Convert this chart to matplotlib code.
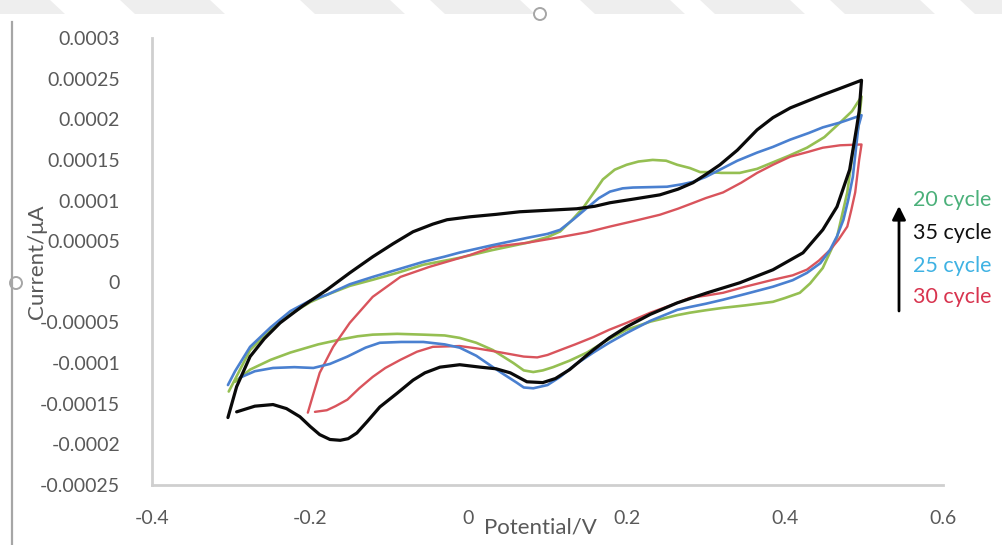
import matplotlib
matplotlib.use("Agg")
from matplotlib import pyplot as plt
from matplotlib.patches import Polygon, Circle
from matplotlib.lines import Line2D

plt.rcParams['font.family'] = ['Lato', 'DejaVu Sans']

# potential (V) and current (x1e-5), forward then reverse sweep
v20_fwd = [-0.303, -0.295, -0.276, -0.25, -0.225, -0.2, -0.179, -0.15, -0.121, -0.09, -0.057, -0.03, -0.011, 0.03,
           0.074, 0.10, 0.116, 0.130, 0.145, 0.158, 0.170, 0.185, 0.200, 0.215, 0.233, 0.25, 0.264, 0.28, 0.293,
           0.305, 0.32, 0.343, 0.365, 0.385, 0.405, 0.428, 0.45, 0.470, 0.485, 0.497]
i20_fwd = [-13.5, -12.0, -8.4, -5.9, -4.0, -2.5, -1.6, -0.5, 0.25, 1.1, 2.1, 2.6, 2.96, 3.9, 4.8, 5.5, 6.2, 7.5, 9.1,
           10.9, 12.6, 13.8, 14.4, 14.8, 15.0, 14.9, 14.4, 14.0, 13.5, 13.5, 13.4, 13.4, 13.9, 14.7, 15.5, 16.5,
           17.8, 19.6, 21.0, 22.8]
v20_rev = [0.493, 0.486, 0.479, 0.466, 0.448, 0.432, 0.419, 0.40, 0.385, 0.35, 0.322, 0.30, 0.280, 0.264, 0.23,
           0.200, 0.175, 0.150, 0.128, 0.107, 0.094, 0.082, 0.070, 0.057, 0.044, 0.031, 0.01, -0.011, -0.03, -0.057,
           -0.09, -0.121, -0.14, -0.162, -0.19, -0.225, -0.25, -0.276, -0.295]
i20_rev = [19.0, 16.0, 11.0, 5.5, 1.7, -0.2, -1.35, -2.0, -2.46, -2.9, -3.2, -3.5, -3.8, -4.1, -4.9, -5.9, -7.2,
           -8.7, -9.7, -10.5, -10.9, -11.1, -10.9, -10.0, -9.2, -8.4, -7.5, -6.9, -6.6, -6.5, -6.4, -6.5, -6.7,
           -7.1, -7.7, -8.7, -9.6, -10.8, -12.3]

v25_fwd = [-0.304, -0.295, -0.276, -0.25, -0.225, -0.2, -0.179, -0.15, -0.121, -0.09, -0.057, -0.03, -0.011, 0.03,
           0.074, 0.10, 0.116, 0.133, 0.150, 0.165, 0.179, 0.195, 0.208, 0.23, 0.251, 0.27, 0.284, 0.30, 0.318,
           0.34, 0.365, 0.385, 0.407, 0.43, 0.448, 0.47, 0.497]
i25_fwd = [-12.7, -11.0, -8.0, -5.6, -3.6, -2.3, -1.6, -0.3, 0.6, 1.5, 2.46, 3.1, 3.6, 4.5, 5.4, 5.9, 6.4, 7.7, 9.1,
           10.3, 11.1, 11.5, 11.6, 11.65, 11.7, 12.0, 12.3, 12.9, 13.8, 14.9, 15.9, 16.6, 17.5, 18.3, 19.0, 19.6,
           20.5]
v25_rev = [0.493, 0.486, 0.480, 0.474, 0.466, 0.457, 0.445, 0.428, 0.41, 0.385, 0.35, 0.322, 0.300, 0.280, 0.264,
           0.23, 0.200, 0.178, 0.158, 0.135, 0.116, 0.100, 0.082, 0.070, 0.061, 0.045, 0.031, 0.01, -0.011, -0.03,
           -0.057, -0.085, -0.112, -0.13, -0.153, -0.175, -0.196, -0.22, -0.247, -0.27, -0.289]
i25_rev = [19.1, 12.9, 10.0, 7.6, 5.6, 3.9, 2.3, 1.1, 0.2, -0.6, -1.5, -2.2, -2.7, -3.1, -3.45, -4.8, -6.3, -7.5,
           -8.7, -10.2, -11.7, -12.7, -13.1, -13.0, -12.4, -11.4, -10.5, -9.1, -8.1, -7.7, -7.4, -7.4, -7.5, -8.1,
           -9.2, -10.1, -10.6, -10.5, -10.6, -11.0, -11.8]

v30_fwd = [-0.203, -0.196, -0.188, -0.171, -0.150, -0.121, -0.086, -0.049, 0.002, 0.031, 0.074, 0.116, 0.150,
           0.179, 0.21, 0.242, 0.265, 0.284, 0.300, 0.322, 0.345, 0.365, 0.385, 0.407, 0.43, 0.448, 0.47, 0.497]
i30_fwd = [-16.1, -13.8, -11.2, -8.0, -5.05, -1.85, 0.6, 1.85, 3.3, 4.3, 4.8, 5.5, 6.1, 6.8, 7.5, 8.25, 9.0, 9.7,
           10.3, 11.0, 12.2, 13.4, 14.4, 15.4, 16.0, 16.5, 16.8, 16.9]
v30_rev = [0.494, 0.489, 0.484, 0.479, 0.468, 0.457, 0.443, 0.428, 0.41, 0.385, 0.35, 0.322, 0.300, 0.280, 0.264,
           0.23, 0.200, 0.178, 0.158, 0.135, 0.116, 0.100, 0.087, 0.070, 0.053, 0.030, 0.011, -0.011, -0.045,
           -0.065, -0.086, -0.105, -0.121, -0.138, -0.153, -0.168, -0.179, -0.194]
i30_rev = [15.0, 11.0, 8.8, 6.8, 5.2, 3.9, 2.6, 1.5, 0.8, 0.25, -0.6, -1.35, -1.7, -1.97, -2.6, -3.8, -5.05, -5.9,
           -6.8, -7.7, -8.4, -9.0, -9.3, -9.2, -8.9, -8.5, -8.2, -7.9, -8.0, -8.6, -9.6, -10.6, -11.7, -13.1,
           -14.5, -15.3, -15.8, -16.0]

v35_fwd = [-0.304, -0.293, -0.276, -0.258, -0.238, -0.21, -0.179, -0.15, -0.121, -0.095, -0.070, -0.045, -0.027,
           0.002, 0.035, 0.065, 0.10, 0.137, 0.160, 0.179, 0.21, 0.242, 0.265, 0.284, 0.300, 0.318, 0.34, 0.365,
           0.385, 0.407, 0.43, 0.448, 0.47, 0.497]
i35_fwd = [-16.7, -12.9, -9.2, -7.0, -5.05, -3.0, -0.99, 1.1, 3.08, 4.7, 6.16, 7.1, 7.64, 8.0, 8.3, 8.62, 8.8,
           8.99, 9.3, 9.73, 10.2, 10.7, 11.4, 12.2, 13.2, 14.4, 16.2, 18.7, 20.2, 21.4, 22.3, 23.0, 23.8, 24.8]
v35_rev = [0.494, 0.491, 0.482, 0.466, 0.448, 0.423, 0.385, 0.343, 0.302, 0.264, 0.23, 0.200, 0.178, 0.158, 0.128,
           0.110, 0.094, 0.074, 0.053, 0.035, 0.015, -0.011, -0.036, -0.055, -0.070, -0.09, -0.112, -0.128,
           -0.141, -0.152, -0.162, -0.175, -0.188, -0.2, -0.213, -0.23, -0.247, -0.27, -0.293]
i35_rev = [21.0, 19.1, 13.8, 9.24, 6.4, 3.57, 1.48, -0.12, -1.35, -2.59, -4.0, -5.54, -6.9, -8.37, -10.8, -11.9,
           -12.4, -12.3, -11.2, -10.7, -10.5, -10.2, -10.5, -11.2, -12.1, -13.7, -15.4, -17.2, -18.6, -19.3,
           -19.5, -19.4, -18.8, -17.8, -16.6, -15.6, -15.1, -15.3, -16.0]

y_ticks = [0.0003, 0.00025, 0.0002, 0.00015, 0.0001, 0.00005, 0, -0.00005, -0.0001, -0.00015, -0.0002, -0.00025]
y_ticklabels = ['0.0003', '0.00025', '0.0002', '0.00015', '0.0001', '0.00005', '0', '-0.00005', '-0.0001',
                '-0.00015', '-0.0002', '-0.00025']
x_ticks = [-0.4, -0.2, 0, 0.2, 0.4, 0.6]
x_ticklabels = ['-0.4', '-0.2', '0', '0.2', '0.4', '0.6']

legend_labels = ['20 cycle', '35 cycle', '25 cycle', '30 cycle']
legend_colors = ['#4bb07a', '#111111', '#3fb2e3', '#d8344f']

W, H = 1003, 545
fig = plt.figure(figsize=(W / 100, H / 100), dpi=100)
ax = fig.add_axes([152 / W, (H - 485) / H, 791 / W, 447 / H])

scale = 1e-5
series = [
    (v20_fwd + v20_rev, i20_fwd + i20_rev, '#95bf52', 1.9),
    (v30_fwd + v30_rev, i30_fwd + i30_rev, '#d9545c', 1.7),
    (v25_fwd + v25_rev, i25_fwd + i25_rev, '#4a80d0', 1.9),
    (v35_fwd + v35_rev, i35_fwd + i35_rev, '#0a0a0a', 2.3),
]
for v, i, c, lw in series:
    assert len(v) == len(i)
    ax.plot(v, [k * scale for k in i], color=c, lw=lw, solid_capstyle='round', solid_joinstyle='round')

ax.set_xlim(-0.4, 0.6)
ax.set_ylim(-0.00025, 0.0003)
ax.set_xticks(x_ticks)
ax.set_xticklabels(x_ticklabels)
ax.set_yticks(y_ticks)
ax.set_yticklabels(y_ticklabels)
ax.tick_params(length=0, labelsize=14, labelcolor='#595959')
ax.tick_params(axis='y', pad=23)
ax.tick_params(axis='x', pad=18)
for s in ['top', 'right']:
    ax.spines[s].set_visible(False)
for s in ['left', 'bottom']:
    ax.spines[s].set_color('#cfcfcf')
    ax.spines[s].set_linewidth(2)

fig.text(540 / W, 1 - 527 / H, 'Potential/V', ha='center', va='center', fontsize=16, color='#595959')
fig.text(37 / W, 1 - 262 / H, 'Current/\u03bcA', ha='center', va='center', rotation=90, fontsize=16,
         color='#595959')

for lab, col, yy in zip(legend_labels, legend_colors, [200, 233, 266, 297]):
    fig.text(913 / W, 1 - yy / H, lab, ha='left', va='center', fontsize=15.5, color=col)
ax.annotate('', xy=(899 / W, 1 - 206 / H), xytext=(899 / W, 1 - 311 / H), xycoords='figure fraction',
            textcoords='figure fraction',
            arrowprops=dict(arrowstyle='-|>', lw=2, color='black', mutation_scale=20, shrinkA=0, shrinkB=0))

# page decorations around the chart (watermark band, frame edge, handles)
for x0 in [-40, 120, 300, 430, 580, 700, 830, 960]:
    fig.patches.append(Polygon([(x0, H), (x0 + 90, H), (x0 + 105, H - 14), (x0 + 15, H - 14)],
                               closed=True, transform=None, facecolor='#eeeeee', edgecolor='none'))
fig.lines.append(Line2D([12, 12], [0, H - 22], transform=None, color='#a6a6a6', lw=1.6))
fig.patches.append(Circle((16, H - 283), 6, transform=None, facecolor='white', edgecolor='#a6a6a6', lw=1.4))
fig.patches.append(Circle((540, H - 14), 6, transform=None, facecolor='white', edgecolor='#a6a6a6', lw=1.4))

fig.savefig('out.png', dpi=100)
